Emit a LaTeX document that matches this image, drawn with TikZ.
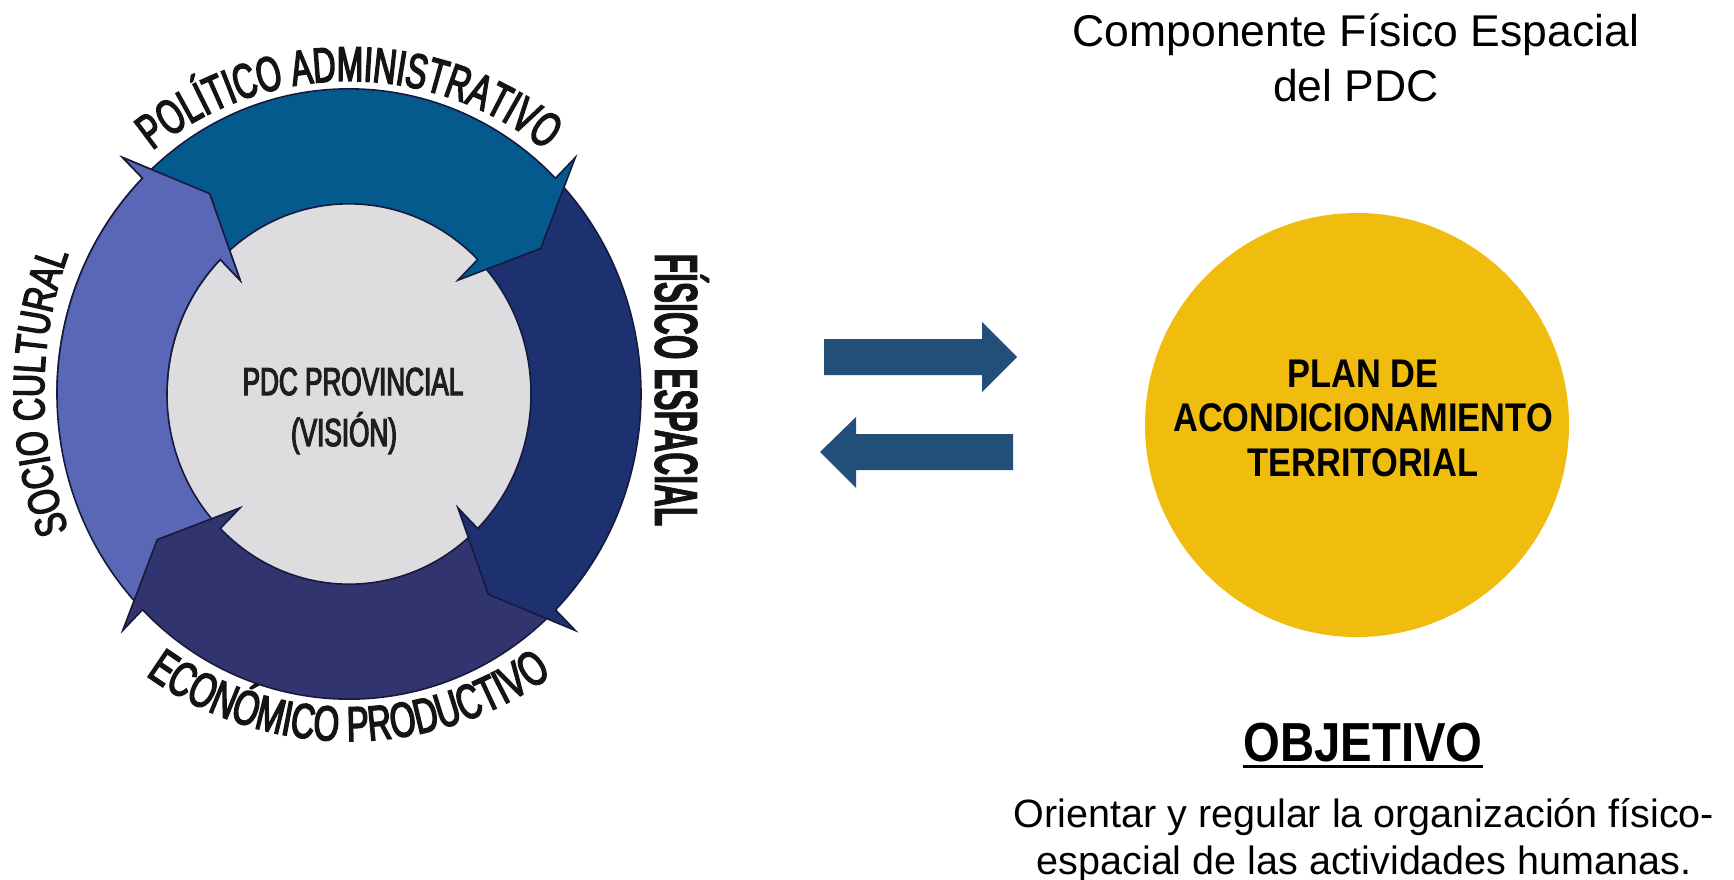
\documentclass[tikz,border=0pt]{standalone}
\usepackage{fontspec}
\setmainfont{Liberation Sans}
\newfontfamily\ringfontA[FakeStretch=0.645,FakeBold=3]{Liberation Sans}
\newfontfamily\ringfontB[FakeStretch=0.67,FakeBold=3]{Liberation Sans}
\newfontfamily\sociofont[FakeStretch=0.73,FakeBold=3]{Liberation Sans}
\newfontfamily\pdcfont[FakeStretch=0.67,FakeBold=3]{Liberation Sans}
\newfontfamily\fisfont[FakeStretch=0.52,FakeBold=1.2]{Liberation Sans}
\newfontfamily\condbold[FakeStretch=0.86]{Liberation Sans}
\usetikzlibrary{decorations.text}
\definecolor{csocio}{RGB}{90,102,182}
\definecolor{cpol}{RGB}{4,89,141}
\definecolor{cfis}{RGB}{29,49,112}
\definecolor{ceco}{RGB}{50,52,112}
\definecolor{cinner}{RGB}{221,221,223}
\definecolor{cline}{RGB}{22,26,60}
\definecolor{dblue}{RGB}{33,79,120}
\definecolor{gold}{RGB}{240,188,14}
\definecolor{txtgray}{RGB}{30,30,30}
\definecolor{lbl}{RGB}{20,20,20}
\tikzset{
  ringarrow/.style={draw=cline, line width=1.6pt, line join=miter},
  label/.style={inner sep=0pt, outer sep=0pt, text=black},
}
\begin{document}
\begin{tikzpicture}[x=1pt,y=1pt]
\useasboundingbox (0,0) rectangle (1734,-879);
\fill[white] (0,0) rectangle (1734,-879);

% ---- ring diagram ----
\coordinate (C) at (349,-394);
\coordinate (Cs) at (444,-392);
\begin{scope}[shift={(349,-394)}, yscale=1.045]
  \fill[cinner] (0,0) circle (183);
  % socio cultural (left, up)
  \path[ringarrow, fill=csocio] (225:292) arc[start angle=225, end angle=135, radius=292] -- (135:320) -- (126:237) -- (135:154) -- (135:182) arc[start angle=135, end angle=225, radius=182] -- cycle;
  % economico productivo (bottom)
  \path[ringarrow, fill=ceco] (-45:292) arc[start angle=-45, end angle=-135, radius=292] -- (-135:320) -- (-144:237) -- (-135:154) -- (-135:182) arc[start angle=-135, end angle=-45, radius=182] -- cycle;
  % fisico espacial (right)
  \path[ringarrow, fill=cfis] (45:292) arc[start angle=45, end angle=-45, radius=292] -- (-45:320) -- (-54:237) -- (-45:154) -- (-45:182) arc[start angle=-45, end angle=45, radius=182] -- cycle;
  % politico administrativo (top)
  \path[ringarrow, fill=cpol] (135:292) arc[start angle=135, end angle=45, radius=292] -- (45:320) -- (36:237) -- (45:154) -- (45:182) arc[start angle=45, end angle=135, radius=182] -- cycle;
  % socio head again, on top of the political tail
  \begin{scope}
    \clip (-400,0) rectangle (0,400);
    \path[ringarrow, fill=csocio] (225:292) arc[start angle=225, end angle=135, radius=292] -- (135:320) -- (126:237) -- (135:154) -- (135:182) arc[start angle=135, end angle=225, radius=182] -- cycle;
  \end{scope}
\end{scope}

\node[label, text=txtgray, anchor=base, font=\pdcfont\fontsize{39}{39}\selectfont] (pdc1) at (353,-395) {PDC PROVINCIAL};
\node[label, text=txtgray, anchor=base, font=\pdcfont\fontsize{39}{39}\selectfont] (pdc2) at (344,-446) {(VISIÓN)};

\path[decorate, decoration={text along path, text align=center,
   text={|\color{lbl}\ringfontA\fontsize{49}{49}\selectfont|POLÍTICO ADMINISTRATIVO}}]
   (C) ++(140:313) arc[start angle=140, end angle=40, radius=313];
\path[decorate, decoration={text along path, text align=center,
   text={|\color{lbl}\ringfontB\fontsize{49}{49}\selectfont|ECONÓMICO PRODUCTIVO}}]
   (C) ++(-140:347) arc[start angle=-140, end angle=-40, radius=347];
\path[decorate, decoration={text along path, text align=center,
   text={|\color{lbl}\sociofont\fontsize{44}{44}\selectfont|SOCIO CULTURAL}}]
   (Cs) ++(215:400) arc[start angle=215, end angle=145, radius=400];

\node[label, text=lbl, anchor=base, rotate=-90, font=\fisfont\bfseries\fontsize{61}{61}\selectfont] (fis) at (655,-390) {FÍSICO ESPACIAL};

% ---- double arrows ----
\fill[dblue] (824,-339) -- (982,-339) -- (982,-322) -- (1017,-357) -- (982,-392) -- (982,-375) -- (824,-375) -- cycle;
\fill[dblue] (820,-452) -- (856,-417) -- (856,-434) -- (1013,-434) -- (1013,-470) -- (856,-470) -- (856,-488) -- cycle;

% ---- right column ----
\node[label, anchor=base, font=\fontsize{44.5}{44.5}\selectfont] (t1) at (1356,-46) {Componente Físico Espacial};
\node[label, anchor=base, font=\fontsize{44.5}{44.5}\selectfont] (t2) at (1356,-101) {del PDC};

\node[circle, fill=gold, minimum size=424pt, inner sep=0pt] (pat) at (1357,-425) {};
\node[label, anchor=base, font=\condbold\bfseries\fontsize{40}{40}\selectfont] (p1) at (1363,-387) {PLAN DE};
\node[label, anchor=base, font=\condbold\bfseries\fontsize{40}{40}\selectfont] (p2) at (1363,-431) {ACONDICIONAMIENTO};
\node[label, anchor=base, font=\condbold\bfseries\fontsize{40}{40}\selectfont] (p3) at (1363,-476) {TERRITORIAL};

\node[label, anchor=base, font=\condbold\bfseries\fontsize{55}{55}\selectfont] (obj) at (1363,-761) {OBJETIVO};
\draw[line width=3pt] (obj.base west) ++(0,-5) coordinate (u1) -- (u1 -| obj.base east);

\node[label, anchor=base, font=\fontsize{39.5}{39.5}\selectfont] (b1) at (1364,-827) {Orientar y regular la organización físico-};
\node[label, anchor=base, font=\fontsize{39.5}{39.5}\selectfont] (b2) at (1364,-874) {espacial de las actividades humanas.};
\end{tikzpicture}
\end{document}
